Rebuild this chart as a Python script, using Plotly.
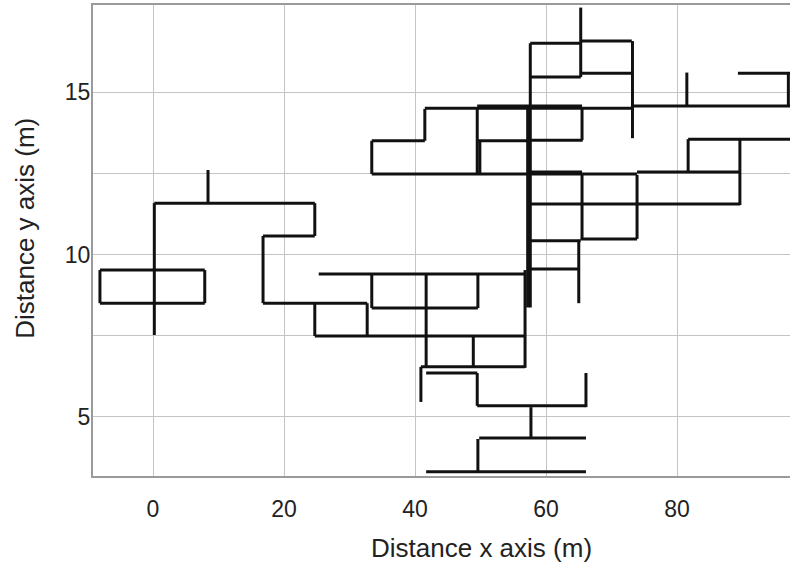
import plotly.graph_objects as go

# Horizontal segments: y, x start, x end (metres)
h_y = [9.52, 8.50, 11.58, 10.57, 8.50, 7.49, 9.40, 8.35, 6.54, 6.35, 5.34, 4.35, 3.31,
       9.55, 10.42, 10.48, 11.55, 12.48, 12.54, 12.54, 13.50, 14.50, 14.57, 14.57, 13.50,
       13.52, 13.55, 15.58, 16.50, 16.57, 15.58, 15.46]
h_x0 = [-8.1, -8.1, 0.2, 16.8, 16.8, 24.7, 25.3, 33.4, 40.9, 41.7, 49.5, 49.8, 41.7,
        57.3, 57.7, 65.3, 57.3, 33.4, 57.7, 73.9, 33.4, 41.5, 49.5, 73.1, 49.5,
        57.7, 81.7, 89.3, 57.6, 65.3, 65.3, 57.6]
h_x1 = [7.9, 7.9, 24.7, 24.7, 32.7, 56.8, 56.8, 49.6, 56.8, 49.5, 66.1, 66.1, 66.1,
        65.0, 65.3, 73.9, 89.6, 73.9, 65.5, 89.6, 41.5, 73.1, 65.5, 97.3, 57.7,
        65.6, 97.3, 97.3, 65.3, 73.1, 73.1, 65.3]

# Vertical segments: x, y start, y end (metres)
v_x = [-8.1, 7.9, 0.2, 8.4, 24.7, 16.8, 24.7, 32.7, 33.4, 49.6, 41.7, 40.9, 48.9,
       56.8, 57.6, 57.2, 49.5, 66.1, 57.7, 49.6, 65.3, 65.5, 73.2, 81.5, 97.0,
       81.7, 89.6, 73.9, 65.5, 65.0, 41.5, 33.4, 49.5, 49.9]
v_y0 = [8.50, 8.50, 7.52, 11.58, 10.57, 8.50, 7.49, 7.49, 8.35, 8.35, 6.51, 5.46, 6.54,
        6.51, 8.37, 8.37, 5.34, 5.30, 4.32, 3.31, 15.46, 13.52, 13.58, 14.57, 14.60,
        12.51, 11.52, 10.48, 10.45, 8.50, 13.50, 12.48, 12.48, 12.48]
v_y1 = [9.52, 9.52, 11.58, 12.60, 11.58, 10.57, 8.50, 8.50, 9.40, 9.40, 9.40, 6.54, 7.49,
        9.52, 16.50, 14.50, 6.35, 6.35, 5.30, 4.32, 17.60, 14.54, 16.57, 15.60, 15.58,
        13.55, 13.55, 12.45, 12.48, 10.45, 14.48, 13.50, 14.48, 13.50]

x_ticks = [0, 20, 40, 60, 80]
y_ticks = [5, 7.5, 10, 12.5, 15]
y_tick_text = ["5", "", "10", "", "15"]
x_title = "Distance x axis (m)"
y_title = "Distance y axis (m)"

xs, ys = [], []
for y, a, b in zip(h_y, h_x0, h_x1):
    xs += [a, b, None]
    ys += [y, y, None]
for x, a, b in zip(v_x, v_y0, v_y1):
    xs += [x, x, None]
    ys += [a, b, None]

fig = go.Figure()
fig.add_trace(go.Scatter(x=xs, y=ys, mode="lines",
                         line=dict(color="#111111", width=3),
                         connectgaps=False, showlegend=False, hoverinfo="skip"))

font = "Liberation Sans, Arial, sans-serif"
fig.update_layout(
    width=790, height=565,
    margin=dict(l=93, r=0, t=5, b=89, autoexpand=False),
    paper_bgcolor="white", plot_bgcolor="white",
    font=dict(family=font, color="#222222"),
    xaxis=dict(range=[-9.16, 97.25], tickvals=x_ticks, showgrid=True, automargin=False,
               gridcolor="#c4c4c4", gridwidth=1, zeroline=False,
               showline=True, linecolor="#9a9a9a", linewidth=2, mirror=True,
               ticks="", ticklabelstandoff=11, tickfont=dict(size=23, color="#222")),
    yaxis=dict(range=[3.18, 17.68], tickvals=y_ticks, ticktext=y_tick_text,
               showgrid=True, gridcolor="#c4c4c4", gridwidth=1, zeroline=False,
               automargin=False,
               showline=True, linecolor="#9a9a9a", linewidth=2,
               ticks="", ticklabelstandoff=-4, tickfont=dict(size=23, color="#222")),
    annotations=[
        dict(text=x_title, xref="paper", yref="paper", x=0.558, y=-0.153,
             xanchor="center", yanchor="middle", showarrow=False,
             font=dict(size=26, color="#222")),
        dict(text=y_title, xref="paper", yref="paper", x=-0.0976, y=0.527,
             xanchor="center", yanchor="middle", showarrow=False, textangle=-90,
             font=dict(size=26, color="#222")),
    ],
)

fig.write_html("out.html", config={"displayModeBar": False},
               post_script="document.body.style.margin='0';document.body.style.padding='0';")
